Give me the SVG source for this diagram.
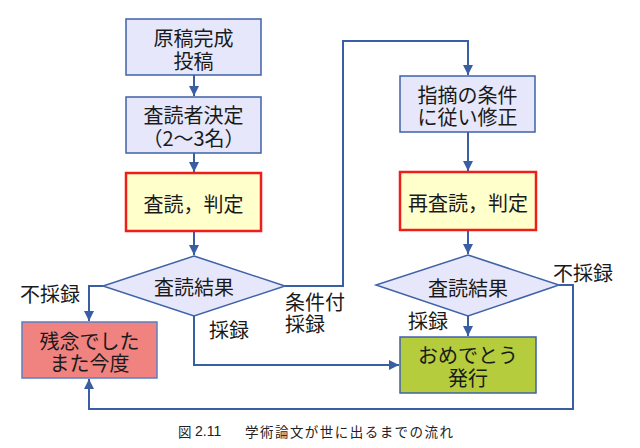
<svg xmlns="http://www.w3.org/2000/svg" width="640" height="448" viewBox="0 0 640 448">
<style>
text{font-family:"Noto Sans CJK JP","Noto Sans CJK SC",sans-serif;font-size:20px;fill:#1a1a1a;text-anchor:middle;dominant-baseline:central}
.lab{text-anchor:start}
.proc{fill:#e6e7fa;stroke:#3f62a8;stroke-width:1.5}
.rev{fill:#ffffcc;stroke:#ee1f1a;stroke-width:2.5}
.ng{fill:#f0827f;stroke:#5a7fc4;stroke-width:1.5}
.ok{fill:#b5cc3c;stroke:#3f62a8;stroke-width:1.5}
.dec{fill:#e6e7fa;stroke:#3f62a8;stroke-width:1.5}
.con{fill:none;stroke:#3a5ea2;stroke-width:2}
.cap{font-size:13.5px;fill:#222;text-anchor:start}
</style>
<defs>
<marker id="ah" viewBox="0 0 10 10" refX="10" refY="5" markerWidth="10" markerHeight="10" markerUnits="userSpaceOnUse" orient="auto">
<path d="M0,0 L10,5 L0,10 z" fill="#3a5ea2"/>
</marker>
</defs>
<g id="connectors">
<path class="con" d="M194,75 V96" marker-end="url(#ah)"/>
<path class="con" d="M194,153 V172" marker-end="url(#ah)"/>
<path class="con" d="M194,231 V255" marker-end="url(#ah)"/>
<path class="con" d="M103,286 H89 V321" marker-end="url(#ah)"/>
<path class="con" d="M194,316 V365 H399" marker-end="url(#ah)"/>
<path class="con" d="M285,286 H343 V41 H468 V75" marker-end="url(#ah)"/>
<path class="con" d="M468,132 V171" marker-end="url(#ah)"/>
<path class="con" d="M468,230 V254" marker-end="url(#ah)"/>
<path class="con" d="M468,316 V336" marker-end="url(#ah)"/>
<path class="con" d="M559,285 H573 V409 H89 V379" marker-end="url(#ah)"/>
</g>
<g id="n1"><rect class="proc" x="126" y="19" width="135" height="56"/><text x="193.5" y="37">原稿完成<tspan x="193.5" dy="23">投稿</tspan></text></g>
<g id="n2"><rect class="proc" x="126" y="97" width="135" height="56"/><text x="193.5" y="114">査読者決定<tspan x="193.5" dy="23">（2〜3名）</tspan></text></g>
<g id="n3"><rect class="rev" x="126" y="173" width="135" height="58"/><text x="193.5" y="203">査読，判定</text></g>
<g id="d1"><polygon class="dec" points="194,256 285,286 194,316 103,286"/><text x="194" y="286">査読結果</text></g>
<g id="n4"><rect class="ng" x="22" y="322" width="135" height="56"/><text x="89.5" y="340">残念でした<tspan x="89.5" dy="22">また今度</tspan></text></g>
<g id="n5"><rect class="proc" x="400" y="76" width="135" height="56"/><text x="467.5" y="94">指摘の条件<tspan x="467.5" dy="22">に従い修正</tspan></text></g>
<g id="n6"><rect class="rev" x="400" y="172" width="136" height="58"/><text x="468" y="202">再査読，判定</text></g>
<g id="d2"><polygon class="dec" points="468,255 559,285 468,316 376,285"/><text x="468" y="287">査読結果</text></g>
<g id="n7"><rect class="ok" x="400" y="337" width="136" height="56"/><text x="468" y="354">おめでとう<tspan x="468" dy="23">発行</tspan></text></g>
<g id="labels">
<text x="50" y="293">不採録</text>
<text x="229" y="329">採録</text>
<text class="lab" x="285" y="301">条件付<tspan x="285" dy="22">採録</tspan></text>
<text x="428" y="320">採録</text>
<text x="583" y="272">不採録</text>
</g>
<g id="caption">
<text class="cap" x="178" y="431">図</text>
<text class="cap" x="195" y="431" style="font-family:'Liberation Sans',sans-serif;font-size:14px">2.11</text>
<text class="cap" x="245" y="431" textLength="208" lengthAdjust="spacing">学術論文が世に出るまでの流れ</text>
</g>
</svg>
